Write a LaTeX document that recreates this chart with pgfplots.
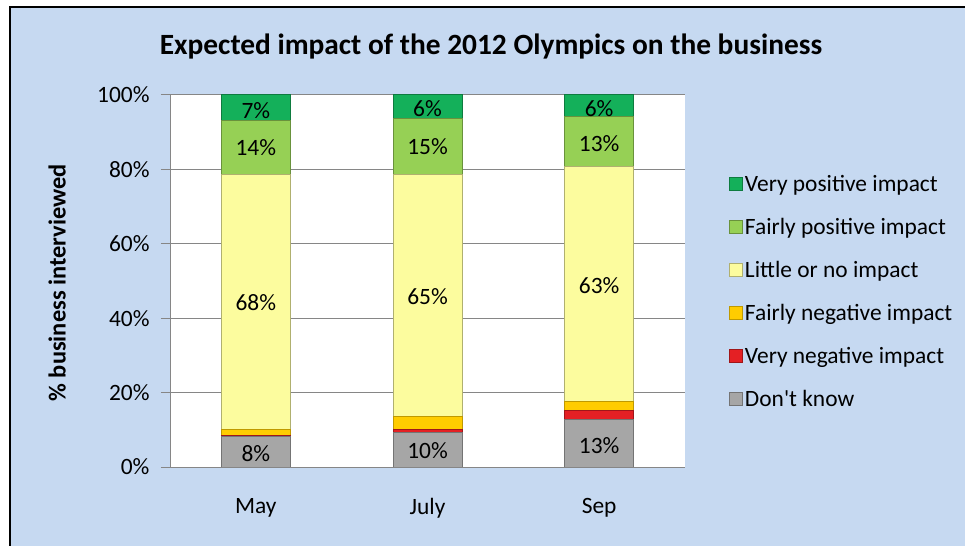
\documentclass[border=0pt]{standalone}
\usepackage{pgfplots}
\pgfplotsset{compat=1.18}
\usepackage{fontspec}
\setmainfont{Carlito}[Ligatures=TeXOff]

\definecolor{chartbg}{RGB}{198,217,241}
\definecolor{gridgray}{RGB}{134,134,134}
\definecolor{vpos}{RGB}{20,176,90}
\definecolor{fpos}{RGB}{150,208,85}
\definecolor{little}{RGB}{252,252,158}
\definecolor{fneg}{RGB}{255,204,0}
\definecolor{vneg}{RGB}{228,32,36}
\definecolor{dknow}{RGB}{166,166,166}

\newcommand{\chartfont}{\fontsize{23.5}{28}\selectfont}

% bar values (%), categories 0=May 1=July 2=Sep
\pgfplotstableread{
x  dk   vneg fneg little fpos vpos
0  8.1  0.5  1.6  68.5   14.5 6.8
1  9.4  0.8  3.4  65.0   15.1 6.3
2  12.9 2.2  2.4  63.2   13.4 5.9
}\impact

% data labels, placed in the middle of their segment
\pgfplotstableread{
x  y    lab
0  3.6  8\%
1  4.3  10\%
2  5.7  13\%
0  44.2 68\%
1  45.8 65\%
2  48.8 63\%
0  85.8 14\%
1  86.1 15\%
2  86.8 13\%
0  95.9 7\%
1  96.4 6\%
2  96.4 6\%
}\labels

\begin{document}
\begin{tikzpicture}
\useasboundingbox (0bp,0bp) rectangle (965bp,546bp);
\clip (0bp,0bp) rectangle (965bp,546bp);
\fill[white] (0bp,0bp) rectangle (965bp,546bp);
\filldraw[fill=chartbg, draw=black, line width=1.2bp] (10bp,-10bp) rectangle (975bp,539bp);

\begin{axis}[
  at={(170bp,79bp)}, anchor=south west,
  scale only axis, width=515bp, height=372bp,
  axis background/.style={fill=white},
  ybar stacked, bar width=69bp,
  xmin=-0.5, xmax=2.5, ymin=0, ymax=100,
  axis x line*=bottom, axis y line*=left,
  axis line style={draw=gridgray, line width=1bp, -},
  xtick={0,1,2}, xticklabels={May,July,Sep},
  major x tick style={draw=none},
  extra x ticks={-0.5,0.5,1.5,2.5}, extra x tick labels={},
  extra x tick style={major tick length=9bp, tick style={draw=gridgray, line width=1bp}},
  xticklabel style={yshift=-19bp},
  ytick={0,20,40,60,80,100},
  yticklabel={\pgfmathprintnumber{\tick}\%},
  yticklabel style={xshift=-8bp},
  tick align=outside, major tick length=9bp,
  y tick style={draw=gridgray, line width=1bp},
  ymajorgrids, grid style={draw=gridgray, line width=1bp},
  ticklabel style={font=\chartfont},
  /pgf/number format/assume math mode=true,
  ylabel={\% business interviewed},
  ylabel style={font=\bfseries\fontsize{24.5}{29}\selectfont, at={(axis description cs:-0.219,0.495)}, anchor=center},
  legend style={at={(1.085,0.472)}, anchor=west, draw=none, fill=none,
    font=\chartfont, row sep=21.2bp, inner sep=0pt},
  legend cell align=left, reverse legend,
  legend image code/.code={\draw[#1, line width=1bp] (-3bp,-6.5bp) rectangle (10bp,6.5bp);},
]
\addplot[fill=dknow, draw=dknow!70!black, line width=1bp] table[y=dk] {\impact};
\addplot[fill=vneg, draw=vneg!70!black, line width=1bp] table[y=vneg] {\impact};
\addplot[fill=fneg, draw=fneg!75!black, line width=1bp] table[y=fneg] {\impact};
\addplot[fill=little, draw=little!70!black, line width=1bp] table[y=little] {\impact};
\addplot[fill=fpos, draw=fpos!70!black, line width=1bp] table[y=fpos] {\impact};
\addplot[fill=vpos, draw=vpos!70!black, line width=1bp] table[y=vpos] {\impact};
\legend{Don't know, Very negative impact, Fairly negative impact, Little or no impact, Fairly positive impact, Very positive impact}
\end{axis}

% same frame again, only for the data labels on top of the bars
\begin{axis}[
  at={(170bp,79bp)}, anchor=south west,
  scale only axis, width=515bp, height=372bp,
  xmin=-0.5, xmax=2.5, ymin=0, ymax=100,
  hide axis,
]
\addplot[only marks, mark=*, mark size=0pt, mark options={draw=none, fill=none},
  nodes near coords, point meta=explicit symbolic,
  every node near coord/.append style={anchor=center, font=\chartfont, text=black}]
  table[x=x, y=y, meta=lab] {\labels};
\end{axis}

\node[font=\bfseries\fontsize{29.5}{34}\selectfont] at (491bp,499bp)
  {Expected impact of the 2012 Olympics on the business};
\end{tikzpicture}
\end{document}
